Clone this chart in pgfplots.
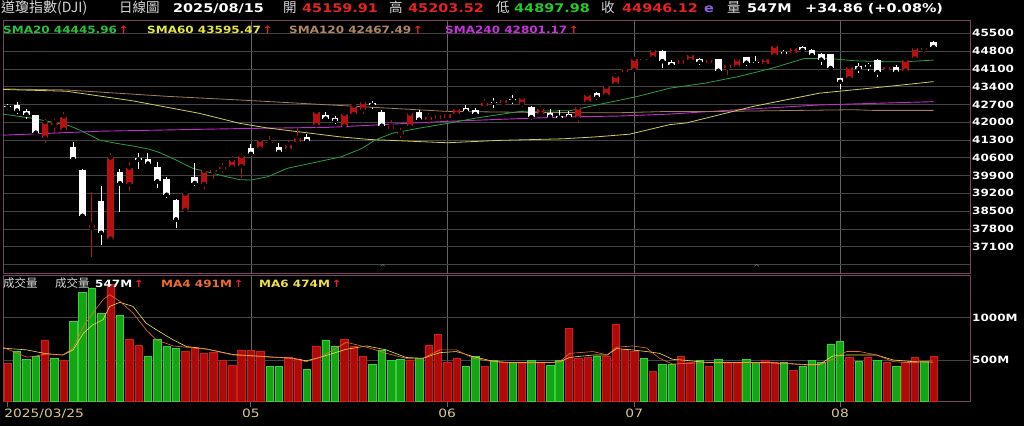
\documentclass[border=0pt]{standalone}
\usepackage{pgfplots}
\pgfplotsset{compat=1.18}
\usepackage{pgfplotstable}
\usepackage{fontspec}
\setmainfont{DejaVu Sans}
\newfontfamily\dv[FakeStretch=1.2]{DejaVu Sans}
\newfontfamily\cjk{Noto Sans CJK TC}
\definecolor{cRed}{RGB}{180,18,18}
\definecolor{hRed}{RGB}{230,35,35}
\definecolor{hGreen}{RGB}{40,200,40}
\definecolor{sma20}{RGB}{40,160,70}
\definecolor{sma60}{RGB}{205,205,95}
\definecolor{sma120}{RGB}{160,125,92}
\definecolor{sma240}{RGB}{190,45,200}
\definecolor{sma20L}{RGB}{40,195,60}
\definecolor{sma60L}{RGB}{230,230,60}
\definecolor{sma120L}{RGB}{175,135,100}
\definecolor{sma240L}{RGB}{200,50,220}
\definecolor{vRed}{RGB}{175,10,10}
\definecolor{vRedE}{RGB}{205,30,30}
\definecolor{vGreen}{RGB}{20,165,20}
\definecolor{vGreenE}{RGB}{60,205,60}
\definecolor{ma4}{RGB}{235,110,45}
\definecolor{ma6}{RGB}{240,225,70}
\definecolor{border}{RGB}{120,70,95}
\definecolor{gridc}{RGB}{68,68,68}
\definecolor{vgridc}{RGB}{100,100,100}
\definecolor{datec}{RGB}{215,200,140}
\definecolor{hdrgray}{RGB}{215,215,215}
\definecolor{epurple}{RGB}{140,100,220}

\pgfplotstableread{
i o h l c
4 41390 42129 41164 42002
5 41880 42129 41582 41990
6 41711 42387 41672 42225
9 37840 39262 36700 37966
11 37415 40774 37309 40608
13 39560 40434 39301 40213
19 38547 39301 38469 39187
21 39563 40186 39367 40093
22 40043 40186 39758 40114
23 40150 40383 39992 40228
24 40240 40668 40149 40528
25 40278 40774 39824 40669
27 40969 41387 40940 41317
28 41170 41477 41086 41219
30 40957 41254 40864 41114
31 41215 41778 41153 41368
33 41880 42453 41850 42410
36 41860 42363 41801 42323
37 42324 42715 42258 42655
38 42500 42856 42324 42792
41 41738 42102 41711 41859
42 41550 41778 41371 41603
43 41842 42402 41820 42344
45 42102 42363 41934 42216
46 42141 42382 42035 42270
47 42180 42440 42035 42305
48 42324 42582 42300 42520
51 42621 42910 42580 42763
53 42760 42949 42660 42867
55 42727 43013 42610 42968
57 42336 42649 42297 42515
61 42150 42649 41973 42582
62 42800 43195 42793 43089
64 43078 43430 43040 43387
65 43508 43950 43480 43819
66 43977 44145 43940 44095
67 44055 44510 44000 44495
68 44440 44574 44367 44484
69 44551 44887 44530 44829
72 44301 44551 44260 44458
73 44434 44731 44400 44651
75 44317 44500 44280 44460
77 44145 44317 43859 44255
78 44184 44574 44150 44484
81 44301 44551 44280 44502
82 44629 45043 44600 45010
84 44731 44940 44629 44902
90 43731 44200 43720 44174
94 44055 44250 44016 44176
96 44028 44510 44000 44459
97 44512 44965 44490 44922
98 44860 44992 44707 44911
}\up

\pgfplotstableread{
i o h l c
0 42630 42730 42470 42587
1 42660 42780 42336 42455
2 42453 42520 42129 42300
3 42270 42297 41555 41584
7 41020 41215 40512 40546
8 40137 40160 38286 38315
10 38887 39473 37153 37646
12 40031 40170 38458 39594
14 40600 40801 40149 40525
15 40566 40801 40305 40369
16 40227 40434 39395 39669
17 39774 39852 39004 39142
18 38938 38960 37832 38170
20 39860 40383 39496 39607
26 40969 41125 40730 40753
29 41008 41192 40774 40829
32 41400 41543 41164 41249
34 42285 42402 42110 42140
35 42180 42258 41934 42051
39 42754 42817 42520 42677
40 42387 42465 41815 41860
44 42400 42492 42035 42099
49 42570 42660 42387 42428
50 42492 42560 42250 42320
52 42810 42949 42559 42762
54 42910 43078 42727 42866
56 42598 42637 42102 42198
58 42363 42520 42180 42216
59 42250 42492 42141 42172
60 42320 42426 42141 42207
63 43144 43195 42856 42982
70 44809 44830 44145 44406
71 44379 44446 44211 44241
74 44473 44520 44262 44372
76 44473 44490 44000 44023
79 44551 44574 44211 44342
80 44379 44602 44290 44323
83 44770 44836 44629 44694
85 44965 45000 44758 44838
86 44836 44870 44550 44633
87 44668 44731 44250 44461
88 44668 44700 44043 44131
89 43731 43760 43313 43589
91 44211 44317 43926 44112
92 44245 44317 44016 44193
93 44446 44470 43793 43969
95 44184 44250 43895 43975
99 45160 45204 44898 44946
}\dn

\pgfplotstableread{
i v
0 460
4 738
6 500
11 1392
13 750
14 674
19 599
20 651
21 580
22 587
23 492
24 440
25 619
26 611
27 599
30 527
31 508
33 658
36 750
37 658
38 540
43 500
45 674
46 806
47 468
48 520
51 428
53 468
55 468
57 468
60 869
61 520
62 527
64 540
65 928
66 630
67 599
69 361
72 547
73 468
75 428
77 468
78 468
81 500
82 468
84 381
90 531
92 531
94 472
96 472
97 531
99 547
}\vred

\pgfplotstableread{
i v
1 600
2 508
3 540
5 520
7 956
8 1300
9 1353
10 1055
12 1027
15 547
16 750
17 658
18 639
28 428
29 420
32 389
34 738
35 666
39 452
40 619
41 492
42 508
44 520
49 428
50 547
52 500
54 468
56 500
58 432
59 500
63 540
68 520
70 452
71 448
74 500
76 508
79 508
80 468
83 468
85 428
86 500
87 472
88 690
89 718
91 480
93 500
95 428
98 480
}\vgreen

\begin{document}
\begin{tikzpicture}
\fill[black] (0pt,0pt) rectangle (1024pt,426pt);
\path[use as bounding box] (0pt,0pt) rectangle (1024pt,426pt);

% ---------- price panel ----------
\begin{axis}[
  at={(3pt,153pt)}, anchor=south west, scale only axis,
  width=967pt, height=253pt,
  xmin=-0.5, xmax=102.9, ymin=36065, ymax=46024,
  axis line style={draw=border, line width=0.8pt},
  xtick={26,47,67,89}, xticklabels={},
  scaled y ticks=false, scaled x ticks=false,
  xmajorgrids, ymajorgrids,
  x grid style={vgridc, line width=0.6pt},
  y grid style={gridc, line width=0.6pt},
  ytick={36400,37100,37800,38500,39200,39900,40600,41300,42000,42700,43400,44100,44800,45500},
  yticklabels={,37100,37800,38500,39200,39900,40600,41300,42000,42700,43400,44100,44800,45500},
  yticklabel pos=right,
  tick style={draw=none}, major tick length=0pt,
  yticklabel style={anchor=west, inner sep=1pt, xshift=1pt, text=white, font=\dv\bfseries\fontsize{10}{12}\selectfont},
  clip=true,
]
\addplot[sma240, line width=0.9pt] coordinates {(-0.5,41490) (9.8,41645) (24.8,41750) (34.4,41800) (47,42035) (59.4,42207) (65.4,42244) (70.8,42320) (76.2,42450) (86.8,42680) (99,42810)};
\addplot[sma120, line width=0.8pt] coordinates {(-0.5,43310) (6.3,43270) (17,43020) (24.8,42875) (27.7,42817) (35.5,42660) (47,42426) (55.8,42387) (65,42370) (70.8,42426) (76.2,42426) (90.4,42492) (92.5,42467) (99,42467)};
\addplot[sma60, line width=0.8pt] coordinates {(-0.5,43290) (6.3,43220) (13.4,42840) (20.5,42350) (24.8,41957) (27.7,41778) (35.5,41426) (38.7,41320) (47,41192) (52.3,41282) (59.4,41348) (63,41426) (66.5,41530) (70.8,41906) (72.6,41973) (79.7,42621) (86.8,43144) (94,43403) (99,43598)};
\addplot[sma20, line width=0.8pt] coordinates {(-0.5,42320) (2.7,42153) (4.5,42020) (6.6,41862) (7.7,41693) (8.8,41496) (9.8,41299) (11.6,41170) (13.4,41063) (15.2,40933) (16.3,40799) (18,40512) (19.8,40185) (21.3,40051) (23.4,39854) (24.8,39740) (26,39724) (27.8,39854) (29.9,40185) (33.2,40445) (35.7,40642) (37.9,40973) (39.3,41299) (41.1,41563) (43.9,41760) (47.1,41957) (49.9,42153) (54.8,42426) (60.1,42453) (63.6,42727) (67.3,43012) (70.8,43340) (74.5,43535) (78.1,43793) (81.7,44121) (85.2,44512) (87.7,44512) (90.6,44418) (94.1,44379) (95.9,44379) (99,44446)};
% wicks
\addplot[only marks, mark=none, error bars/.cd, y dir=both, y explicit, error mark=none,
  error bar style={draw=cRed, solid, line width=1pt}]
  table[x=i, y=c, y error plus expr=\thisrow{h}-\thisrow{c}, y error minus expr=\thisrow{c}-\thisrow{l}] {\up};
\addplot[only marks, mark=none, error bars/.cd, y dir=both, y explicit, error mark=none,
  error bar style={draw=white, solid, line width=1pt}]
  table[x=i, y=c, y error plus expr=\thisrow{h}-\thisrow{c}, y error minus expr=\thisrow{c}-\thisrow{l}] {\dn};
% bodies
\addplot[only marks, mark=none, error bars/.cd, y dir=plus, y explicit, error mark=none,
  error bar style={draw=cRed, solid, line width=6.6pt}]
  table[x=i, y=o, y error plus expr=\thisrow{c}-\thisrow{o}] {\up};
\addplot[only marks, mark=none, error bars/.cd, y dir=plus, y explicit, error mark=none,
  error bar style={draw=white, solid, line width=6.6pt}]
  table[x=i, y=c, y error plus expr=\thisrow{o}-\thisrow{c}] {\dn};
% small markers at the panel foot
\node[text=gray, font=\fontsize{8}{8}\selectfont, inner sep=0pt] at (axis cs:40.1,36290) {\^{}};
\node[text=gray, font=\fontsize{8}{8}\selectfont, inner sep=0pt] at (axis cs:80.1,36290) {\^{}};
\end{axis}

% ---------- volume panel ----------
\begin{axis}[
  at={(3pt,24.3pt)}, anchor=south west, scale only axis,
  width=967pt, height=126.7pt,
  xmin=-0.5, xmax=102.9, ymin=7, ymax=1505,
  axis line style={draw=border, line width=0.8pt},
  scaled y ticks=false, scaled x ticks=false,
  xtick={26,47,67,89}, xticklabels={05,06,07,08},
  extra x ticks={0}, extra x tick labels={2025/03/25},
  extra x tick style={grid=none, xticklabel style={anchor=north west, xshift=-6pt}},
  xmajorgrids, ymajorgrids,
  x grid style={vgridc, line width=0.6pt},
  y grid style={gridc, line width=0.6pt},
  xtick pos=bottom, xtick align=outside,
  xtick style={draw=vgridc, line width=0.8pt}, major tick length=5pt,
  ytick={500,1000}, yticklabels={500M,1000M},
  ytick style={draw=none},
  yticklabel pos=right,
  yticklabel style={anchor=west, inner sep=1pt, xshift=1pt, text=white, font=\dv\bfseries\fontsize{10}{12}\selectfont},
  xticklabel style={text=datec, font=\dv\fontsize{11.5}{13}\selectfont, inner sep=2.5pt},
  clip=true,
]
\addplot[ybar, bar width=7.4pt, bar shift=0pt, fill=vRed, draw=vRedE, line width=0.6pt] table[x=i, y=v] {\vred};
\addplot[ybar, bar width=7.4pt, bar shift=0pt, fill=vGreen, draw=vGreenE, line width=0.6pt] table[x=i, y=v] {\vgreen};
\addplot[ma6, line width=0.6pt] coordinates {(-0.5,640) (2.0,620) (4.1,575) (5.9,559) (7.0,620) (8.1,817) (9.1,916) (10.2,976) (10.9,1134) (12.0,1182) (13.4,1134) (14.8,936) (15.9,857) (17.7,738) (19.1,660) (21.3,630) (24.1,565) (26.2,550) (28.4,535) (30.5,522) (31.9,490) (33.4,531) (34.8,579) (36.2,627) (38.4,666) (40.5,619) (42.6,530) (44.4,520) (46.2,587) (48,600) (49.8,540) (51.9,485) (53.7,470) (58,470) (59,480) (60.1,531) (62.6,559) (64.1,559) (65.1,635) (66.8,619) (68.3,600) (69.7,579) (71.1,508) (72.6,495) (74.8,470) (81.2,470) (84,455) (85.5,445) (86.8,445) (88.2,547) (89.7,559) (91.1,559) (92.9,559) (94.7,500) (96.8,480) (98.9,474)};
\addplot[ma4, line width=0.6pt] coordinates {(-0.5,651) (2.0,535) (2.7,540) (4.1,571) (5.9,559) (7.0,643) (8.1,896) (9.1,1055) (10.2,1214) (10.9,1273) (12.0,1194) (13.4,1055) (14.8,857) (15.9,738) (17.7,666) (19.1,651) (21.3,627) (24.1,559) (26.2,547) (28.4,531) (30.5,520) (31.9,480) (33.4,531) (34.8,619) (36.2,710) (38.4,651) (40.5,579) (42.6,520) (44.4,520) (46.2,619) (48,619) (49.8,520) (51.9,480) (53.7,468) (58,468) (59,480) (60.1,579) (62.6,600) (64.1,559) (65.1,651) (66.8,666) (68.3,643) (69.7,520) (71.1,452) (72.6,460) (74.8,468) (81.2,468) (84,452) (85.5,440) (86.8,440) (88.2,508) (89.7,600) (91.1,600) (92.9,559) (94.7,480) (96.8,468) (98.9,491)};
\end{axis}

% ---------- header ----------
\begin{scope}[every node/.style={anchor=base west, inner sep=0pt}]
\node[text=hdrgray, font=\cjk\fontsize{14}{15}\selectfont] at (1pt,413pt) {道瓊指數(DJI)};
\node[text=hdrgray, font=\cjk\fontsize{13.5}{15}\selectfont] at (119pt,413pt) {日線圖};
\node[text=white, font=\dv\bfseries\fontsize{12}{14}\selectfont] at (173pt,413pt) {2025/08/15};
\node[text=hdrgray, font=\cjk\fontsize{13.5}{15}\selectfont] at (283pt,413pt) {開};
\node[text=hRed, font=\dv\bfseries\fontsize{12}{14}\selectfont] at (302pt,413pt) {45159.91};
\node[text=hdrgray, font=\cjk\fontsize{13.5}{15}\selectfont] at (389pt,413pt) {高};
\node[text=hRed, font=\dv\bfseries\fontsize{12}{14}\selectfont] at (408pt,413pt) {45203.52};
\node[text=hdrgray, font=\cjk\fontsize{13.5}{15}\selectfont] at (496pt,413pt) {低};
\node[text=hGreen, font=\dv\bfseries\fontsize{12}{14}\selectfont] at (514pt,413pt) {44897.98};
\node[text=hdrgray, font=\cjk\fontsize{13.5}{15}\selectfont] at (601pt,413pt) {收};
\node[text=hRed, font=\dv\bfseries\fontsize{12}{14}\selectfont] at (622pt,413pt) {44946.12};
\node[text=epurple, font=\dv\bfseries\fontsize{12}{14}\selectfont] at (704pt,413pt) {e};
\node[text=hdrgray, font=\cjk\fontsize{13.5}{15}\selectfont] at (727pt,413pt) {量};
\node[text=white, font=\dv\bfseries\fontsize{12}{14}\selectfont] at (747pt,413pt) {547M};
\node[text=white, font=\dv\bfseries\fontsize{12}{14}\selectfont] at (805pt,413pt) {+34.86 (+0.08\%)};
% SMA legend
\node[text=sma20L, font=\dv\bfseries\fontsize{10}{12}\selectfont] at (3pt,392.7pt) {SMA20 44445.96\,{\color{hRed}↑}};
\node[text=sma60L, font=\dv\bfseries\fontsize{10}{12}\selectfont] at (147pt,392.7pt) {SMA60 43595.47\,{\color{hRed}↑}};
\node[text=sma120L, font=\dv\bfseries\fontsize{10}{12}\selectfont] at (289pt,392.7pt) {SMA120 42467.49\,{\color{hRed}↑}};
\node[text=sma240L, font=\dv\bfseries\fontsize{10}{12}\selectfont] at (445pt,392.7pt) {SMA240 42801.17\,{\color{hRed}↑}};
% volume legend
\node[text=hdrgray, font=\cjk\fontsize{11.5}{13}\selectfont] at (3pt,138.5pt) {成交量};
\node[text=hdrgray, font=\cjk\fontsize{11.5}{13}\selectfont] at (55pt,138.5pt) {成交量};
\node[text=white, font=\dv\bfseries\fontsize{10}{12}\selectfont] at (95pt,138.7pt) {547M\,{\color{hRed}↑}};
\node[text=ma4, font=\dv\bfseries\fontsize{10}{12}\selectfont] at (161pt,138.7pt) {MA4 491M\,{\color{hRed}↑}};
\node[text=ma6, font=\dv\bfseries\fontsize{10}{12}\selectfont] at (259pt,138.7pt) {MA6 474M\,{\color{hRed}↑}};
\end{scope}
\end{tikzpicture}
\end{document}
